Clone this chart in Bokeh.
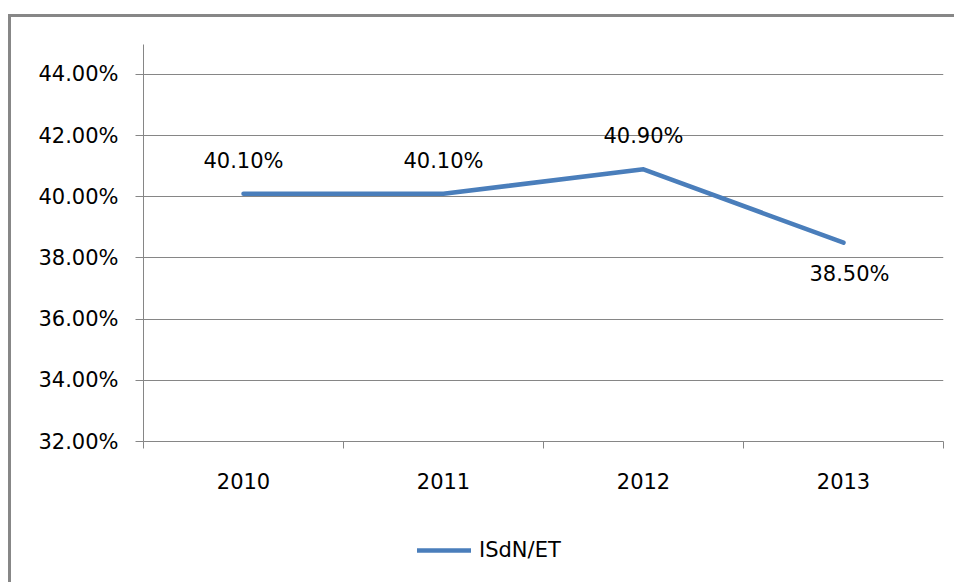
from bokeh.plotting import figure
from bokeh.layouts import column
from bokeh.models import FixedTicker, Legend, LegendItem, NumeralTickFormatter
from bokeh.embed import file_html
from bokeh.resources import INLINE
from bokeh.core.properties import value

# ---- data ----
years = ["2010", "2011", "2012", "2013"]
shares = [0.401, 0.401, 0.409, 0.385]
y_ticks = [0.32, 0.34, 0.36, 0.38, 0.40, 0.42, 0.44]
series_name = "ISdN/ET"

FONT = "DejaVu Sans"
FS = "21px"
GRAY = "#868686"
BLUE = "#4A7EBB"

x = [i + 0.5 for i in range(len(years))]
bounds = list(range(len(years) + 1))

p = figure(width=943, height=508, x_range=(0, len(years)), y_range=(0.32, 0.4498),
           output_backend="svg", toolbar_location=None,
           min_border_left=132, min_border_right=11, min_border_top=27, min_border_bottom=84)
p.outline_line_color = None
p.background_fill_color = "white"
p.border_fill_color = "white"

# grid
p.xgrid.visible = False
p.ygrid.ticker = FixedTicker(ticks=y_ticks)
p.ygrid.grid_line_color = GRAY
p.ygrid.grid_line_width = 1

# y axis
ya = p.yaxis[0]
ya.ticker = FixedTicker(ticks=y_ticks)
ya.formatter = NumeralTickFormatter(format="0.00%")
ya.axis_line_color = GRAY
ya.major_tick_line_color = GRAY
ya.major_tick_in = 0
ya.major_tick_out = 8
ya.minor_tick_line_color = None
ya.major_label_standoff = 17
ya.major_label_text_font = FONT
ya.major_label_text_font_size = FS
ya.major_label_text_color = "black"

# x axis
xa = p.xaxis[0]
xa.ticker = FixedTicker(ticks=x, minor_ticks=bounds)
xa.major_label_overrides = {xi: yr for xi, yr in zip(x, years)}
xa.axis_line_color = GRAY
xa.major_tick_line_color = None
xa.major_tick_in = 0
xa.major_tick_out = 0
xa.minor_tick_line_color = GRAY
xa.minor_tick_in = 0
xa.minor_tick_out = 7
xa.major_label_standoff = 24
xa.major_label_text_font = FONT
xa.major_label_text_font_size = FS
xa.major_label_text_color = "black"

line = p.line(x, shares, line_color=BLUE, line_width=4.5, line_join="round", line_cap="round")

# data labels
labels = [f"{v * 100:.2f}%" for v in shares]
below = [i == len(shares) - 1 for i in range(len(shares))]
x_off = [6 if b else 0 for b in below]
y_off = [31 if b else -33 for b in below]
p.text(x=x, y=shares, text=labels, x_offset=x_off, y_offset=y_off,
       text_align="center", text_baseline="middle",
       text_font=value(FONT), text_font_size=FS, text_color="black")

# legend strip below the chart (series drawn out of view, only its key shows)
lg = figure(width=943, height=57, x_range=(-2, -1), y_range=(0, 1),
            output_backend="svg", toolbar_location=None, min_border=0)
lg.axis.visible = False
lg.grid.visible = False
lg.outline_line_color = None
lg.background_fill_color = "white"
lg.border_fill_color = "white"
key = lg.line(x, shares, line_color=BLUE, line_width=4.5, line_cap="round")
legend = Legend(items=[LegendItem(label=series_name, renderers=[key])],
                location=(274, 20), orientation="horizontal",
                border_line_color=None, background_fill_alpha=0,
                glyph_width=54, glyph_height=20, label_standoff=8,
                label_text_font=FONT, label_text_font_size=FS, label_text_color="black",
                padding=0, margin=0)
lg.add_layout(legend, "center")

layout = column(p, lg, spacing=0)
layout.styles = {"border-left": "3px solid #878787", "border-top": "3px solid #878787",
                 "margin-top": "14px", "margin-left": "8px"}

open("out.html", "w").write(file_html(layout, INLINE))
